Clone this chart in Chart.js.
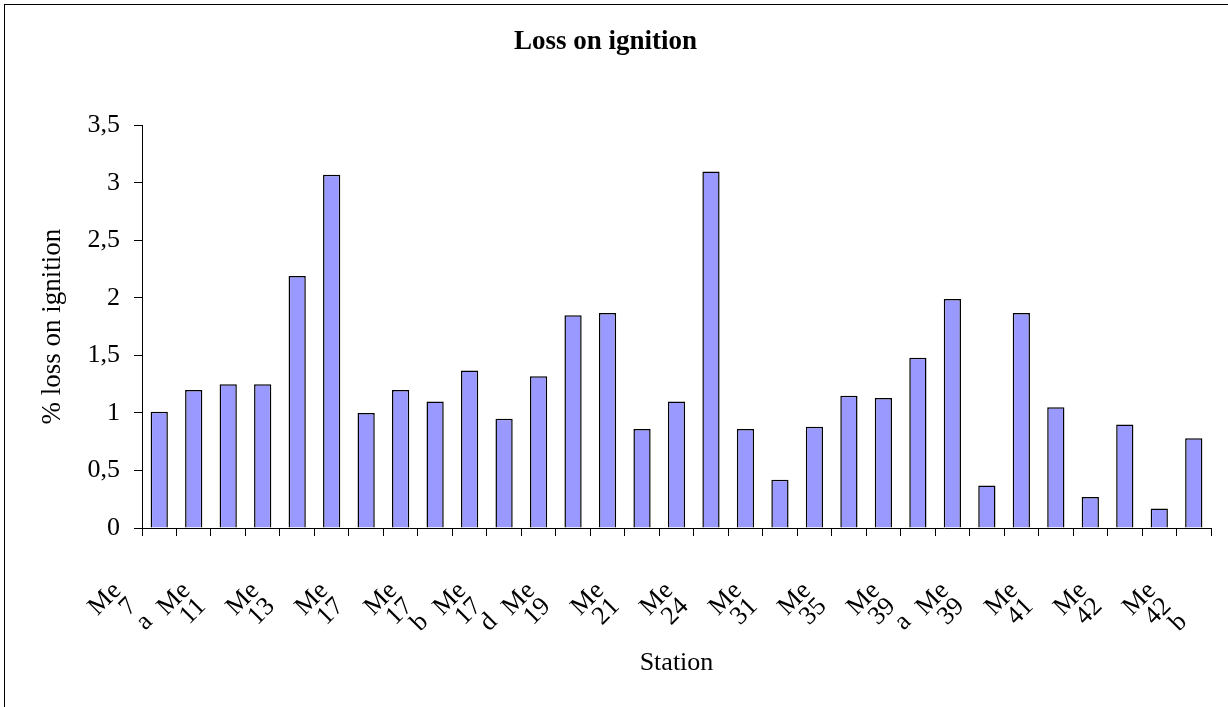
<!DOCTYPE html>
<html>
<head>
<meta charset="utf-8">
<script src="https://cdn.jsdelivr.net/npm/chart.js@4.4.1/dist/chart.umd.min.js"></script>
<style>
html,body{margin:0;padding:0;background:#fff;}
#wrap{position:relative;width:1228px;height:707px;overflow:hidden;}
#frame{position:absolute;left:4px;top:4px;width:1300px;height:800px;border-left:1px solid #000;border-top:1px solid #000;pointer-events:none;}
canvas{display:block;}
</style>
</head>
<body>
<div id="wrap"><canvas id="c" width="1228" height="707"></canvas><div id="frame"></div></div>
<script>
// ---- data ----
const stations = [
  "Me 7 a","Me 7 b","Me 11","Me 12","Me 13","Me 15","Me 17","Me 17 a","Me 17 b","Me 17 c",
  "Me 17 d","Me 18","Me 19","Me 20","Me 21","Me 23","Me 24","Me 27","Me 31","Me 33",
  "Me 35","Me 37","Me 39 a","Me 39 b","Me 39","Me 40","Me 41","Me 41 b","Me 42","Me 42 a","Me 42 b"
];
const lossOnIgnition = [
  1.01,1.20,1.25,1.25,2.19,3.07,1.00,1.20,1.10,1.37,
  0.95,1.32,1.85,1.87,0.86,1.10,3.10,0.86,0.42,0.88,
  1.15,1.13,1.48,1.99,0.37,1.87,1.05,0.27,0.90,0.17,0.78
];
const yTickLabels = ["0","0,5","1","1,5","2","2,5","3","3,5"];
const xLabelStep = 2;

const SERIF = '"Liberation Serif", "Times New Roman", serif';

new Chart(document.getElementById('c'), {
  type: 'bar',
  data: {
    labels: stations,
    datasets: [{
      data: lossOnIgnition,
      backgroundColor: '#9999FF',
      borderColor: '#000000',
      borderWidth: 1.5,
      barPercentage: 0.5,
      categoryPercentage: 1.0
    }]
  },
  options: {
    responsive: false,
    animation: false,
    devicePixelRatio: 1,
    layout: { padding: { left: 0, right: 17, top: 0, bottom: 0 } },
    plugins: {
      legend: { display: false },
      tooltip: { enabled: false },
      title: {
        display: true,
        text: 'Loss on ignition',
        color: '#000',
        font: { family: SERIF, size: 27, weight: 'bold', lineHeight: 1.2 },
        padding: { top: 26, bottom: 67 }
      }
    },
    scales: {
      x: {
        grid: { display: true, drawOnChartArea: false, drawTicks: true, tickLength: 8, color: '#000', lineWidth: 1, offset: true },
        border: { display: true, color: '#000', width: 1 },
        ticks: {
          autoSkip: false,
          minRotation: 45,
          maxRotation: 45,
          padding: 43,
          labelOffset: -42,
          color: '#000',
          font: { family: SERIF, size: 26, lineHeight: 0.85 },
          callback: function(value, index) {
            return index % xLabelStep === 0 ? stations[index].split(' ') : '';
          }
        },
        title: {
          display: true,
          text: 'Station',
          color: '#000',
          font: { family: SERIF, size: 26, lineHeight: 1.2 },
          padding: { top: 0, bottom: 28 }
        },
        afterFit: function(scale) {
          scale.height = 707 - 528;
          scale.paddingLeft = 0;
          scale.paddingRight = 0;
        }
      },
      y: {
        min: 0,
        max: 3.5,
        grid: { display: true, drawOnChartArea: false, drawTicks: true, tickLength: 8, color: '#000', lineWidth: 1 },
        border: { display: true, color: '#000', width: 1 },
        ticks: {
          stepSize: 0.5,
          padding: 14,
          color: '#000',
          font: { family: SERIF, size: 26 },
          callback: function(value, index) { return yTickLabels[index]; }
        },
        title: {
          display: true,
          text: '% loss on ignition',
          color: '#000',
          font: { family: SERIF, size: 27, lineHeight: 1.2 },
          padding: { top: 37, bottom: 0 }
        },
        afterFit: function(scale) {
          scale.width = 142;
          scale.paddingTop = 0;
          scale.paddingBottom = 0;
        }
      }
    }
  }
});
</script>
</body>
</html>
